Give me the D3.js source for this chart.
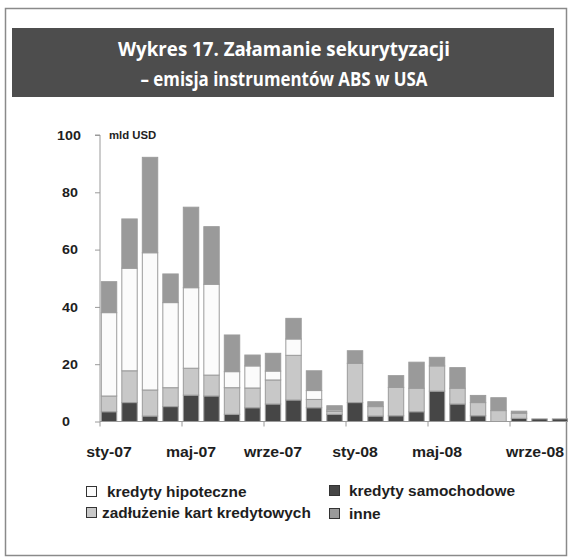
<!DOCTYPE html>
<html><head><meta charset="utf-8">
<script src="https://cdn.jsdelivr.net/npm/d3@7"></script>
<style>body{margin:0;background:#fff}svg{display:block}</style>
</head><body><svg id="c" width="568" height="559"></svg>
<script>
const months = ["sty-07","lut-07","mar-07","kwi-07","maj-07","cze-07","lip-07","sie-07","wrze-07","paź-07","lis-07","gru-07",
  "sty-08","lut-08","mar-08","kwi-08","maj-08","cze-08","lip-08","sie-08","wrze-08","paź-08","lis-08"];
const tickLabels = ["sty-07","maj-07","wrze-07","sty-08","maj-08","wrze-08"];
const yTicks = [0,20,40,60,80,100];
const samochodowe = [3.4,6.6,1.9,5.2,9.2,8.9,2.5,4.8,6.1,7.5,4.8,2.5,6.6,1.9,2.0,3.4,10.6,6.1,2.0,0,1.1,0.9,0.9];
const karty       = [5.5,11.1,9.1,6.6,9.4,7.3,9.3,6.9,8.4,15.6,2.9,1.0,13.7,3.3,9.9,8.2,8.8,5.5,4.6,3.8,1.8,0,0];
const hipoteczne  = [29.1,35.8,47.9,29.7,28.1,31.7,5.6,7.7,3.1,5.7,3.1,0.5,0,0,0,0,0,0,0,0,0,0,0];
const inne        = [10.8,17.2,33.3,10.0,28.1,20.1,12.8,3.8,6.2,7.2,6.9,1.5,4.4,1.7,4.1,9.1,3.0,7.2,2.5,4.5,0.7,0,0];
const seriesNames = ["kredyty samochodowe","zadłużenie kart kredytowych","kredyty hipoteczne","inne"];
const seriesColors = ["#464646","#c8c8c8","#fbfbfb","#9a9a9a"];

const FONT = "Liberation Sans, Arial, sans-serif";
function stretch(sel, f){ sel.each(function(){ const L=this.getComputedTextLength(); d3.select(this).attr("textLength",L*f).attr("lengthAdjust","spacingAndGlyphs"); }); }

const svg = d3.select("#c");
svg.append("rect").attr("x",5.5).attr("y",8.5).attr("width",561).attr("height",547)
  .attr("fill","none").attr("stroke","#8a8a8a").attr("stroke-width",1.5);
svg.append("rect").attr("x",12).attr("y",28).attr("width",542).attr("height",69).attr("fill","#4d4d4d");
svg.append("text").attr("x",284).attr("y",56).attr("text-anchor","middle")
  .attr("font-family","Open Sans, sans-serif").attr("font-weight","700").attr("font-size",19)
  .attr("fill","#fff").attr("textLength",332).attr("lengthAdjust","spacingAndGlyphs")
  .text("Wykres 17. Załamanie sekurytyzacji");
svg.append("text").attr("x",284).attr("y",86).attr("text-anchor","middle")
  .attr("font-family","Open Sans, sans-serif").attr("font-weight","700").attr("font-size",19)
  .attr("fill","#fff").attr("textLength",287).attr("lengthAdjust","spacingAndGlyphs")
  .text("– emisja instrumentów ABS w USA");

const x0 = 100, x1 = 571.5;
const x = d3.scaleBand().domain(months).range([x0,x1]).paddingInner(0.2).paddingOuter(0.1).align(0.2);
const xi = d3.scaleLinear().domain([0,months.length]).range([x0,x1]);
const y = d3.scaleLinear().domain([0,100]).range([421.5,135]);

const data = months.map((m,i)=>({m, s0:samochodowe[i], s1:karty[i], s2:hipoteczne[i], s3:inne[i]}));
const stack = d3.stack().keys(["s0","s1","s2","s3"])(data);

const g = svg.append("g");
stack.forEach((layer,k)=>{
  g.selectAll(null).data(layer.filter(d=>d[1]-d[0]>0)).enter().append("rect")
    .attr("x",d=>x(d.data.m)+0.5).attr("width",x.bandwidth()-1)
    .attr("y",d=>y(d[1])).attr("height",d=>y(d[0])-y(d[1]))
    .attr("fill",seriesColors[k]).attr("stroke","#9c9c9c").attr("stroke-width",1);
});

// y axis
const yAxis = d3.axisLeft(y).tickValues(yTicks).tickSize(5).tickFormat(d3.format("d"));
const ya = svg.append("g").attr("transform",`translate(${x0},0)`).call(yAxis);
ya.select(".domain").attr("stroke","#9a9a9a").attr("d",`M-5,${y(100)}H0V${y(0)}`);
ya.selectAll(".tick line").attr("stroke","#9a9a9a");
const yt = ya.selectAll(".tick text").attr("font-family",FONT).attr("font-weight","bold")
  .attr("font-size",13).attr("fill","#1e1e1e").attr("text-anchor","start").attr("x",-38);
yt.filter(d=>d===100).attr("x",-43);
stretch(yt,1.1);
const mld = svg.append("text").attr("x",109).attr("y",139).attr("font-family",FONT)
  .attr("font-weight","bold").attr("font-size",10.5).attr("fill","#1e1e1e").text("mld USD");
stretch(mld,1.08);

// x axis
svg.append("line").attr("x1",x0).attr("x2",568).attr("y1",y(0)).attr("y2",y(0)).attr("stroke","#9a9a9a");
const tickIdx = d3.range(0,months.length+1,4);
svg.selectAll(null).data(tickIdx).enter().append("line")
  .attr("x1",d=>xi(d)).attr("x2",d=>xi(d)).attr("y1",y(0)).attr("y2",y(0)+5).attr("stroke","#9a9a9a");
const xl = svg.selectAll(null).data(tickLabels).enter().append("text")
  .attr("x",d=>x(d)+x.bandwidth()/2+ (d==="wrze-08"?16:0)).attr("y",457).attr("text-anchor","middle")
  .attr("font-family",FONT).attr("font-weight","bold").attr("font-size",14)
  .attr("fill","#1e1e1e").text(d=>d);
stretch(xl,1.13);

// legend
const legend = [
  {i:2, lx:86, ly:486, tx:107},
  {i:0, lx:329, ly:485, tx:349},
  {i:1, lx:86, ly:507, tx:102},
  {i:3, lx:329, ly:508, tx:349}
];
legend.forEach(l=>{
  svg.append("rect").attr("x",l.lx+0.5).attr("y",l.ly+0.5).attr("width",10).attr("height",10)
    .attr("fill",seriesColors[l.i]).attr("stroke","#333").attr("stroke-width",1);
  const t = svg.append("text").attr("x",l.tx).attr("y",l.ly+10.5).attr("font-family",FONT)
    .attr("font-weight","bold").attr("font-size",14).attr("fill","#1e1e1e").text(seriesNames[l.i]);
  stretch(t,1.1);
});
</script></body></html>
